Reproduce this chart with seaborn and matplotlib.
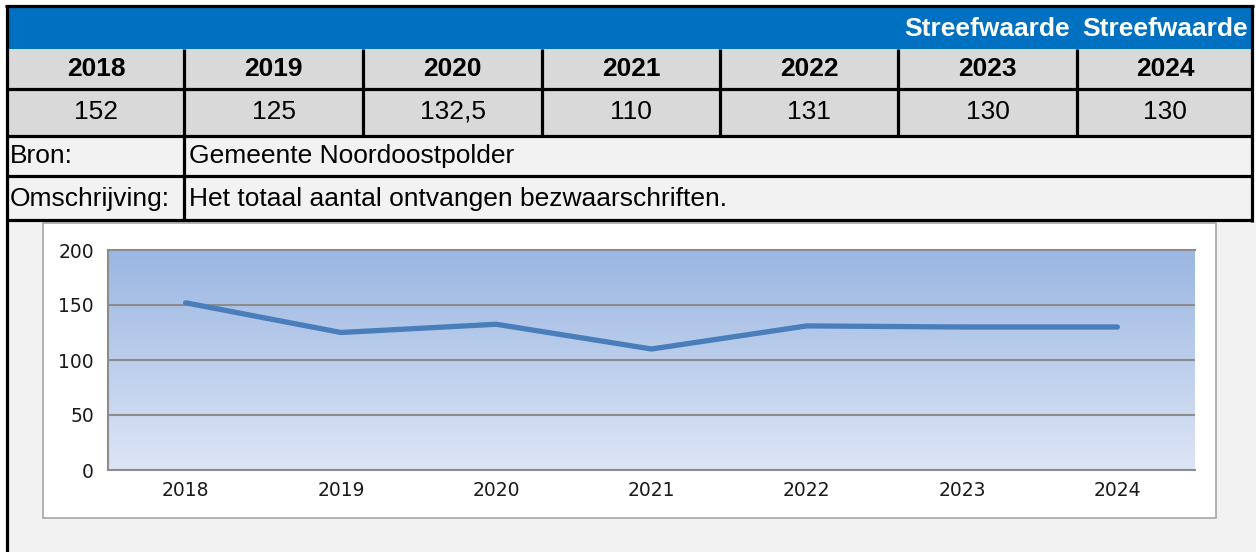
import numpy as np
import pandas as pd
import matplotlib
matplotlib.use('Agg')
import matplotlib.pyplot as plt
from matplotlib.patches import Rectangle
from matplotlib.lines import Line2D
from matplotlib.colors import LinearSegmentedColormap
import seaborn as sns

# data
years = ['2018', '2019', '2020', '2021', '2022', '2023', '2024']
values = [152, 125, 132.5, 110, 131, 130, 130]
value_labels = ['152', '125', '132,5', '110', '131', '130', '130']
header_labels = ['', '', '', '', '', 'Streefwaarde', 'Streefwaarde']
bron = 'Gemeente Noordoostpolder'
omschrijving = 'Het totaal aantal ontvangen bezwaarschriften.'
yticks = [0, 50, 100, 150, 200]

sns.set_style('white')
plt.rcParams['font.family'] = ['Liberation Sans', 'DejaVu Sans']
plt.rcParams['text.color'] = 'black'

W, H = 1256, 552
FS = 19
fig = plt.figure(figsize=(W / 100, H / 100), dpi=100)
fig.patch.set_facecolor('white')


def rect(x0, y0, x1, y1, color, ec='none', lw=0):
    fig.patches.append(Rectangle((x0 / W, 1 - y1 / H), (x1 - x0) / W, (y1 - y0) / H,
                                 transform=fig.transFigure, facecolor=color,
                                 edgecolor=ec, linewidth=lw, zorder=-2))


def hline(x0, x1, y, lw=2.3, color='black'):
    fig.add_artist(Line2D([x0 / W, x1 / W], [1 - y / H, 1 - y / H], color=color,
                          lw=lw, transform=fig.transFigure, solid_capstyle='butt'))


def vline(x, y0, y1, lw=2.3, color='black'):
    fig.add_artist(Line2D([x / W, x / W], [1 - y0 / H, 1 - y1 / H], color=color,
                          lw=lw, transform=fig.transFigure, solid_capstyle='butt'))


def text(x, y, s, **kw):
    fig.text(x / W, 1 - y / H, s, color=kw.pop('color', 'black'), **kw)


# table backgrounds
cols = [8, 184, 363, 542, 720, 898, 1077, 1253]
rect(8, 7, 1253, 49, '#0070C0')
rect(8, 49, 1253, 136, '#D9D9D9')
rect(8, 136, 1253, 221, '#F2F2F2')
rect(8, 221, 1256, 552, '#F2F2F2')

# table lines
hline(5, 1254, 6)
hline(8, 1253, 88.5)
hline(8, 1253, 135.5)
hline(8, 1253, 176)
hline(8, 1253, 220.5)
vline(6.5, 5, 552)
vline(1252, 5, 222)
for x in cols[1:-1]:
    vline(x, 49, 136)
vline(184, 136, 221)

# table text
for i, (h, yr, v) in enumerate(zip(header_labels, years, value_labels)):
    xc = (cols[i] + cols[i + 1]) / 2
    if h:
        text(xc, 29, h, ha='center', va='center', color='white',
             fontsize=FS, fontweight='bold')
    text(xc, 69, yr, ha='center', va='center', fontsize=FS, fontweight='bold')
    text(xc, 112, v, ha='center', va='center', fontsize=FS)
text(10, 156, 'Bron:', ha='left', va='center', fontsize=FS)
text(189, 156, bron, ha='left', va='center', fontsize=FS)
text(10, 199, 'Omschrijving:', ha='left', va='center', fontsize=FS)
text(189, 199, omschrijving, ha='left', va='center', fontsize=FS)

# chart frame
rect(43, 223, 1216, 518, 'white', ec='#A6A6A6', lw=1.2)

ax = fig.add_axes([108 / W, 1 - 470 / H, 1087 / W, 220 / H])
ax.set_zorder(5)
grad = LinearSegmentedColormap.from_list('g', ['#9AB6E2', '#DDE5F5'])
ax.imshow(np.linspace(0, 1, 256).reshape(-1, 1), cmap=grad, aspect='auto',
          extent=[0, 1, 0, 1], transform=ax.transAxes, zorder=0)

df = pd.DataFrame({'jaar': years, 'aantal': values})
sns.lineplot(data=df, x='jaar', y='aantal', ax=ax, sort=False,
             color='#4A7EBB', linewidth=3.8, zorder=3)

ax.set_xlim(-0.5, len(years) - 0.5)
ax.set_ylim(0, 200)
ax.set_yticks(yticks)
ax.set_xlabel('')
ax.set_ylabel('')
for y in yticks[1:-1]:
    ax.axhline(y, color='#8C8C8C', lw=1.5, zorder=1)
for side in ['top', 'left', 'bottom']:
    ax.spines[side].set_visible(True)
    ax.spines[side].set_color('#8C8C8C')
    ax.spines[side].set_linewidth(1.5)
ax.spines['right'].set_visible(False)
ax.tick_params(axis='y', length=0, pad=10, labelsize=13.5, labelcolor='#1A1A1A')
ax.tick_params(axis='x', length=0, pad=8, labelsize=13.5, labelcolor='#1A1A1A')
for lab in ax.get_xticklabels() + ax.get_yticklabels():
    lab.set_fontfamily('DejaVu Sans')

fig.savefig('out.png', dpi=100)
